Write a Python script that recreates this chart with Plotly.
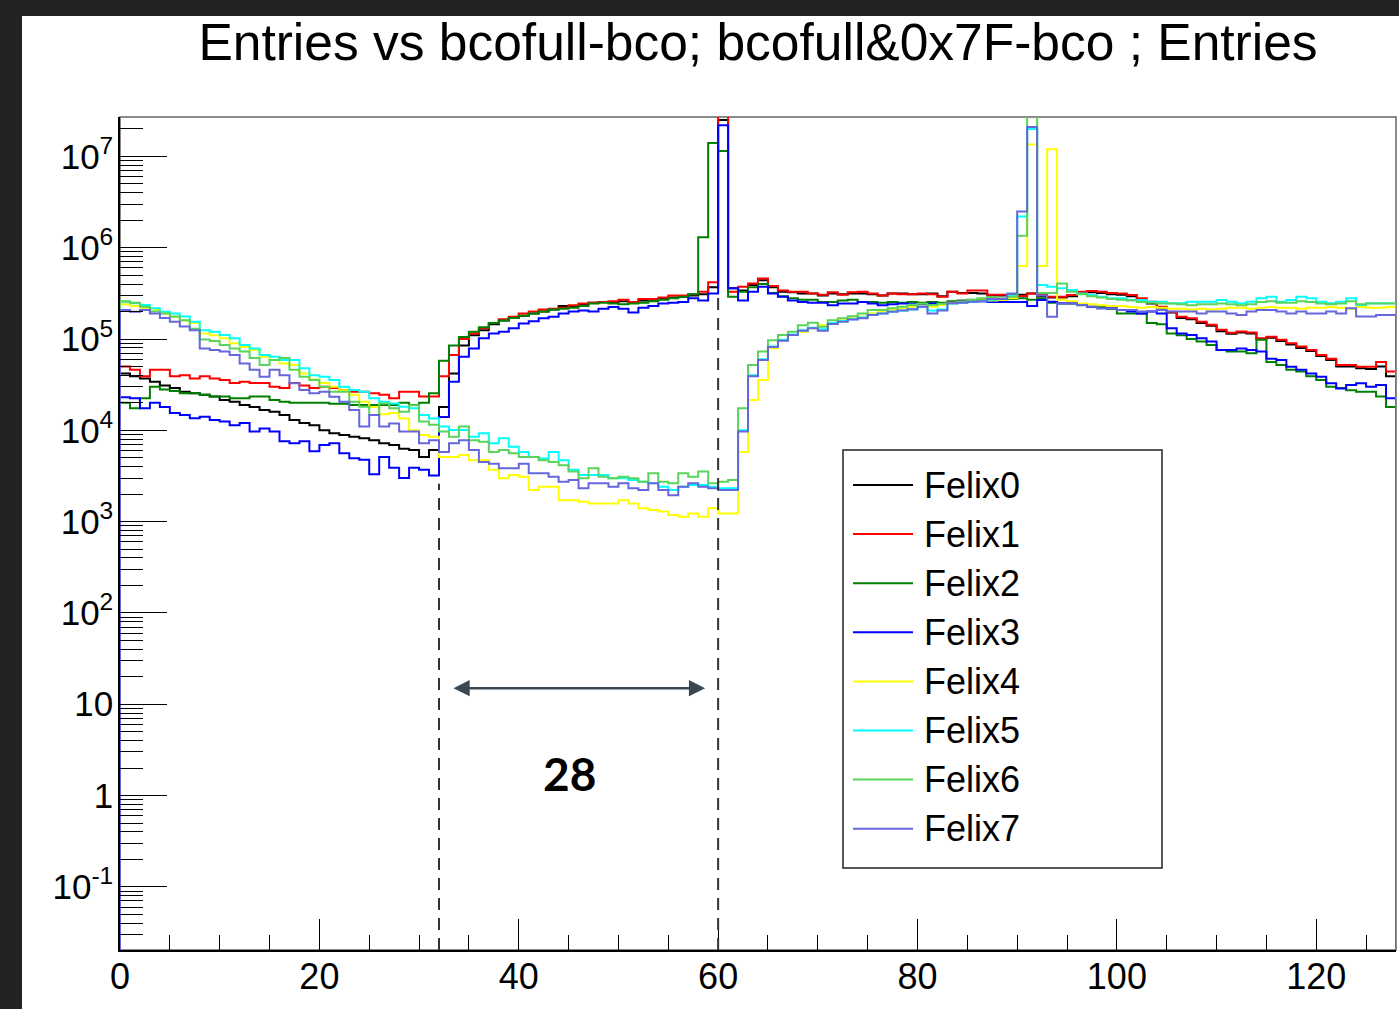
import math
import plotly.graph_objects as go

# ---------------- data (bin contents, bins of width 1 from 0 to 128) ----------------
bin_edges = list(range(129))

felix0 = [4.2e4, 3.9e4, 3.7e4, 3.4e4, 3.1e4, 2.9e4, 2.65e4, 2.55e4, 2.45e4, 2.35e4, 2.15e4, 2.05e4, 1.9e4, 1.8e4, 1.67e4, 1.6e4,
          1.47e4, 1.3e4, 1.2e4, 1.14e4, 1.0e4, 9.3e3, 8.9e3, 8.5e3, 8.2e3, 7.8e3, 7.2e3, 6.9e3, 6.3e3, 6.1e3, 5.1e3, 6.1e3,
          1.8e4, 4.2e4, 8.5e4, 1.1e5, 1.25e5, 1.45e5, 1.6e5, 1.7e5, 1.8e5, 1.9e5, 2.0e5, 2.1e5, 2.3e5, 2.3e5, 2.4e5, 2.5e5,
          2.55e5, 2.55e5, 2.6e5, 2.55e5, 2.65e5, 2.7e5, 2.75e5, 2.85e5, 2.9e5, 3.0e5, 3.1e5, 3.7e5, 2.5e7,
          3.6e5, 3.4e5, 3.9e5, 4.4e5, 3.7e5, 3.3e5, 3.25e5, 3.15e5, 3.15e5, 3.0e5, 3.15e5, 3.1e5, 3.15e5, 3.15e5, 3.1e5, 3.0e5,
          3.15e5, 3.15e5, 3.1e5, 3.1e5, 3.15e5, 2.95e5, 3.3e5, 3.2e5, 3.2e5, 3.15e5, 3.0e5, 3.0e5, 3.0e5, 3.05e5, 3.15e5,
          2.95e5, 2.85e5, 2.85e5, 2.95e5, 3.2e5, 3.25e5, 3.2e5, 3.1e5, 3.05e5, 2.95e5, 2.7e5, 2.45e5, 2.2e5, 1.95e5, 1.7e5, 1.65e5,
          1.5e5, 1.4e5, 1.22e5, 1.14e5, 1.18e5, 1.15e5, 1.0e5, 1.03e5, 9.5e4, 8.7e4, 8.0e4, 7.4e4, 6.5e4, 5.9e4, 5.0e4, 5.0e4,
          4.8e4, 4.7e4, 5.0e4, 3.9e4]

felix1 = [5.0e4, 4.6e4, 3.9e4, 4.6e4, 4.6e4, 3.9e4, 4.0e4, 3.7e4, 3.9e4, 3.7e4, 3.55e4, 3.3e4, 3.4e4, 3.3e4, 3.3e4, 3.0e4,
          2.9e4, 3.3e4, 3.1e4, 2.9e4, 3.0e4, 2.9e4, 2.75e4, 2.65e4, 2.65e4, 2.55e4, 2.45e4, 2.25e4, 2.65e4, 2.65e4, 2.35e4, 2.35e4,
          3.9e4, 6.7e4, 1.0e5, 1.15e5, 1.31e5, 1.5e5, 1.65e5, 1.75e5, 1.9e5, 2.0e5, 2.1e5, 2.15e5, 2.2e5, 2.35e5, 2.45e5, 2.5e5,
          2.55e5, 2.6e5, 2.7e5, 2.55e5, 2.75e5, 2.75e5, 2.85e5, 3.0e5, 3.0e5, 3.1e5, 3.3e5, 4.2e5, 3.2e7,
          3.3e5, 3.75e5, 4.05e5, 4.6e5, 3.8e5, 3.4e5, 3.3e5, 3.3e5, 3.15e5, 3.05e5, 3.25e5, 3.05e5, 3.25e5, 3.3e5, 3.15e5, 3.0e5,
          3.15e5, 3.1e5, 3.1e5, 3.15e5, 3.1e5, 2.9e5, 3.3e5, 3.15e5, 3.4e5, 3.4e5, 3.05e5, 3.05e5, 3.05e5, 2.95e5, 3.15e5,
          3.03e5, 2.91e5, 2.91e5, 3.03e5, 3.3e5, 3.35e5, 3.3e5, 3.2e5, 3.16e5, 3.03e5, 2.79e5, 2.56e5, 2.26e5, 1.99e5, 1.75e5, 1.69e5,
          1.55e5, 1.43e5, 1.26e5, 1.17e5, 1.21e5, 1.18e5, 1.02e5, 1.06e5, 9.8e4, 8.97e4, 8.3e4, 7.6e4, 6.7e4, 6.1e4, 5.2e4, 5.2e4,
          4.98e4, 4.98e4, 5.6e4, 4.4e4]

felix2 = [2.0e4, 1.75e4, 2.25e4, 3.0e4, 2.8e4, 2.7e4, 2.55e4, 2.55e4, 2.45e4, 2.35e4, 2.35e4, 2.25e4, 2.25e4, 2.35e4, 2.35e4, 2.15e4,
          2.05e4, 2.0e4, 2.0e4, 2.0e4, 2.0e4, 1.95e4, 1.95e4, 1.9e4, 1.9e4, 1.9e4, 1.9e4, 1.9e4, 2.0e4, 1.9e4, 2.0e4, 2.55e4,
          5.8e4, 8.5e4, 1.05e5, 1.2e5, 1.35e5, 1.5e5, 1.6e5, 1.7e5, 1.8e5, 1.9e5, 2.0e5, 2.1e5, 2.15e5, 2.2e5, 2.3e5, 2.45e5,
          2.5e5, 2.45e5, 2.4e5, 2.45e5, 2.5e5, 2.6e5, 2.7e5, 2.8e5, 2.9e5, 3.1e5, 1.3e6, 1.4e7, 1.15e7,
          2.9e5, 3.3e5, 3.7e5, 4.0e5, 3.2e5, 2.95e5, 2.8e5, 2.7e5, 2.7e5, 2.55e5, 2.55e5, 2.65e5, 2.7e5, 2.55e5, 2.55e5, 2.5e5,
          2.55e5, 2.5e5, 2.55e5, 2.5e5, 2.55e5, 2.5e5, 2.6e5, 2.65e5, 2.7e5, 2.7e5, 2.65e5, 2.7e5, 2.75e5, 2.8e5, 2.7e5,
          2.8e5, 2.5e5, 2.45e5, 2.45e5, 2.35e5, 2.25e5, 2.25e5, 2.15e5, 1.9e5, 1.9e5, 1.9e5, 1.5e5, 1.45e5, 1.15e5, 1.1e5, 1.0e5,
          9.4e4, 8.6e4, 7.6e4, 7.3e4, 7.3e4, 7.0e4, 9.8e4, 5.6e4, 5.2e4, 4.6e4, 4.4e4, 3.9e4, 3.55e4, 3.0e4, 2.9e4, 2.75e4,
          2.65e4, 2.65e4, 2.35e4, 1.8e4]

felix3 = [2.3e4, 2.25e4, 1.75e4, 2.0e4, 1.8e4, 1.55e4, 1.47e4, 1.36e4, 1.41e4, 1.3e4, 1.25e4, 1.14e4, 1.2e4, 9.7e3, 1.05e4, 9.7e3,
          7.6e3, 7.2e3, 7.6e3, 5.9e3, 6.9e3, 7.2e3, 5.6e3, 4.95e3, 4.75e3, 3.3e3, 5.1e3, 3.9e3, 3.0e3, 3.9e3, 3.7e3, 3.2e3,
          1.4e4, 3.4e4, 6.4e4, 7.9e4, 1.02e5, 1.15e5, 1.2e5, 1.31e5, 1.48e5, 1.57e5, 1.69e5, 1.75e5, 1.9e5, 2.0e5, 2.05e5, 2.0e5,
          2.15e5, 2.25e5, 2.15e5, 1.95e5, 2.2e5, 2.3e5, 2.45e5, 2.5e5, 2.55e5, 2.8e5, 2.65e5, 3.15e5, 2.2e7,
          3.6e5, 2.65e5, 3.3e5, 3.75e5, 3.15e5, 2.9e5, 2.65e5, 2.55e5, 2.5e5, 2.5e5, 2.35e5, 2.45e5, 2.45e5, 2.55e5, 2.45e5, 2.35e5,
          2.4e5, 2.45e5, 2.4e5, 2.4e5, 2.45e5, 2.4e5, 2.5e5, 2.6e5, 2.65e5, 2.6e5, 2.55e5, 2.55e5, 2.55e5, 2.55e5, 2.3e5,
          2.67e5, 2.56e5, 2.46e5, 2.46e5, 2.36e5, 2.26e5, 2.17e5, 2.17e5, 2.08e5, 2.0e5, 1.91e5, 2.0e5, 1.91e5, 1.31e5, 1.15e5, 1.11e5,
          1.02e5, 9.4e4, 7.6e4, 7.6e4, 7.9e4, 7.6e4, 7.3e4, 6.1e4, 5.9e4, 4.98e4, 4.6e4, 4.2e4, 3.87e4, 3.27e4, 2.88e4, 3.13e4,
          3.27e4, 3.0e4, 3.13e4, 2.24e4]

felix4 = [2.4e5, 2.3e5, 2.2e5, 2.1e5, 1.9e5, 1.75e5, 1.6e5, 1.5e5, 1.15e5, 1.1e5, 1.02e5, 9.0e4, 8.2e4, 7.6e4, 6.4e4, 5.9e4,
          5.4e4, 5.2e4, 4.2e4, 3.6e4, 3.3e4, 3.0e4, 2.75e4, 2.45e4, 2.05e4, 1.8e4, 1.5e4, 1.55e4, 1.35e4, 1.0e4, 8.9e3, 8.5e3,
          5.1e3, 5.1e3, 5.36e3, 4.7e3, 4.7e3, 3.7e3, 2.98e3, 3.24e3, 3.1e3, 2.22e3, 2.41e3, 2.41e3, 1.72e3, 1.72e3, 1.65e3, 1.58e3,
          1.58e3, 1.58e3, 1.72e3, 1.58e3, 1.40e3, 1.34e3, 1.29e3, 1.18e3, 1.13e3, 1.23e3, 1.13e3, 1.40e3, 1.23e3, 1.23e3,
          5.8e3, 2.15e4, 3.56e4, 7.9e4, 9.7e4, 1.11e5, 1.2e5, 1.31e5, 1.42e5, 1.46e5, 1.61e5, 1.69e5, 1.75e5, 1.91e5, 2.0e5, 2.08e5,
          2.17e5, 2.26e5, 2.26e5, 2.26e5, 2.36e5, 2.5e5, 2.56e5, 2.6e5, 2.65e5, 2.65e5, 2.67e5, 2.79e5, 6.3e5, 1.35e7, 6.3e5, 1.2e7,
          2.7e5, 2.6e5, 2.45e5, 2.4e5, 2.35e5, 2.3e5, 2.3e5, 2.25e5, 2.2e5, 2.25e5, 2.2e5, 2.15e5, 2.15e5, 2.1e5, 2.15e5, 2.1e5,
          2.15e5, 2.2e5, 2.2e5, 2.15e5, 2.2e5, 2.25e5, 2.2e5, 2.2e5, 2.15e5, 2.2e5, 2.2e5, 2.25e5, 2.2e5, 2.15e5, 2.25e5, 2.2e5,
          2.2e5, 2.25e5]

felix5 = [2.56e5, 2.46e5, 2.36e5, 2.17e5, 1.99e5, 1.91e5, 1.76e5, 1.55e5, 1.25e5, 1.2e5, 1.11e5, 1.02e5, 8.6e4, 7.9e4, 6.7e4, 6.4e4,
          5.9e4, 5.9e4, 4.8e4, 4.0e4, 3.87e4, 3.56e4, 3.0e4, 2.76e4, 2.65e4, 2.24e4, 2.06e4, 1.97e4, 1.81e4, 1.74e4, 1.47e4, 1.35e4,
          1.1e4, 1.01e4, 1.01e4, 8.5e3, 9.3e3, 7.2e3, 8.2e3, 6.6e3, 5.8e3, 5.1e3, 4.9e3, 5.8e3, 4.7e3, 3.7e3, 3.24e3, 3.24e3,
          3.24e3, 2.98e3, 2.98e3, 2.86e3, 2.74e3, 2.63e3, 2.41e3, 2.22e3, 2.41e3, 2.52e3, 2.52e3, 2.41e3, 2.32e3, 2.32e3,
          1.0e4, 4.0e4, 6.0e4, 8.3e4, 9.8e4, 1.12e5, 1.25e5, 1.33e5, 1.28e5, 1.5e5, 1.58e5, 1.65e5, 1.72e5, 1.85e5, 1.9e5, 2.0e5,
          2.05e5, 2.1e5, 2.25e5, 2.05e5, 2.1e5, 2.45e5, 2.5e5, 2.55e5, 2.6e5, 2.7e5, 2.75e5, 3.0e5, 2.2e6, 2.0e7, 3.9e5, 3.74e5,
          3.59e5, 3.44e5, 3.16e5, 3.03e5, 2.91e5, 2.79e5, 2.79e5, 2.67e5, 2.67e5, 2.56e5, 2.56e5, 2.46e5, 2.46e5, 2.56e5, 2.56e5, 2.56e5,
          2.67e5, 2.56e5, 2.46e5, 2.56e5, 2.79e5, 2.91e5, 2.56e5, 2.67e5, 2.91e5, 2.79e5, 2.56e5, 2.46e5, 2.56e5, 2.79e5, 2.36e5, 2.46e5,
          2.46e5, 2.46e5]

felix6 = [2.6e5, 2.5e5, 2.26e5, 2.0e5, 1.91e5, 1.76e5, 1.61e5, 1.3e5, 9.9e4, 9.5e4, 8.6e4, 7.9e4, 7.3e4, 6.2e4, 5.2e4, 5.9e4,
          6.2e4, 4.6e4, 3.87e4, 3.56e4, 3.0e4, 2.65e4, 2.65e4, 2.06e4, 1.81e4, 1.47e4, 1.97e4, 1.74e4, 1.6e4, 1.88e4, 1.25e4, 1.15e4,
          9.7e3, 8.5e3, 1.1e4, 7.8e3, 7.5e3, 5.8e3, 6.1e3, 5.6e3, 5.1e3, 5.1e3, 4.7e3, 4.5e3, 4.15e3, 3.55e3, 2.98e3, 3.85e3,
          3.1e3, 2.98e3, 3.1e3, 2.98e3, 2.74e3, 3.38e3, 2.74e3, 2.63e3, 3.38e3, 3.1e3, 3.55e3, 2.63e3, 2.74e3, 2.86e3,
          1.74e4, 5.2e4, 7.3e4, 9.7e4, 1.11e5, 1.2e5, 1.42e5, 1.51e5, 1.36e5, 1.61e5, 1.69e5, 1.78e5, 1.91e5, 2.08e5, 2.08e5, 2.17e5,
          2.26e5, 2.36e5, 2.43e5, 2.36e5, 2.43e5, 2.46e5, 2.56e5, 2.67e5, 2.79e5, 2.86e5, 2.79e5, 2.9e5, 1.35e6, 3.0e7, 3.2e5, 3.2e5,
          4.07e5, 3.3e5, 3.1e5, 2.95e5, 2.85e5, 2.75e5, 2.7e5, 2.65e5, 2.55e5, 2.5e5, 2.45e5, 2.45e5, 2.4e5, 2.35e5, 2.4e5, 2.4e5,
          2.45e5, 2.4e5, 2.35e5, 2.4e5, 2.55e5, 2.6e5, 2.5e5, 2.5e5, 2.6e5, 2.55e5, 2.45e5, 2.4e5, 2.45e5, 2.6e5, 2.4e5, 2.45e5,
          2.45e5, 2.45e5]

felix7 = [2.08e5, 1.99e5, 2.08e5, 1.91e5, 1.7e5, 1.55e5, 1.37e5, 1.25e5, 7.9e4, 7.6e4, 7.3e4, 6.7e4, 5.4e4, 4.6e4, 3.87e4, 4.6e4,
          4.0e4, 3.27e4, 2.76e4, 2.54e4, 2.65e4, 2.33e4, 2.06e4, 1.67e4, 1.1e4, 1.47e4, 1.1e4, 1.19e4, 9.7e3, 9.7e3, 7.2e3, 7.8e3,
          5.8e3, 7.2e3, 7.8e3, 6.1e3, 4.5e3, 4.3e3, 3.85e3, 3.85e3, 4.3e3, 3.38e3, 3.38e3, 3.1e3, 2.74e3, 2.86e3, 2.32e3, 2.63e3,
          2.63e3, 2.41e3, 2.63e3, 2.32e3, 2.22e3, 2.63e3, 2.22e3, 1.95e3, 2.41e3, 2.63e3, 2.41e3, 2.32e3, 2.22e3, 2.22e3,
          9.7e3, 3.9e4, 5.9e4, 8.2e4, 9.6e4, 1.11e5, 1.23e5, 1.31e5, 1.23e5, 1.46e5, 1.55e5, 1.64e5, 1.69e5, 1.83e5, 1.9e5, 1.99e5,
          2.05e5, 2.12e5, 2.26e5, 1.9e5, 2.05e5, 2.46e5, 2.5e5, 2.56e5, 2.6e5, 2.75e5, 2.75e5, 3.16e5, 2.5e6, 2.1e7, 3.0e5, 1.75e5,
          2.46e5, 2.46e5, 2.36e5, 2.26e5, 2.17e5, 2.17e5, 2.08e5, 2.08e5, 2.0e5, 2.0e5, 2.08e5, 2.0e5, 2.0e5, 2.0e5, 1.91e5, 2.0e5,
          2.0e5, 1.91e5, 1.83e5, 2.0e5, 2.08e5, 2.08e5, 2.0e5, 1.91e5, 2.0e5, 1.91e5, 1.91e5, 2.0e5, 1.91e5, 2.17e5, 1.76e5, 1.76e5,
          1.83e5, 1.83e5]

series_names = ["Felix0", "Felix1", "Felix2", "Felix3", "Felix4", "Felix5", "Felix6", "Felix7"]
series_values = [felix0, felix1, felix2, felix3, felix4, felix5, felix6, felix7]
series_colors = ["#000000", "#ff0000", "#008000", "#0000ff", "#ffff00", "#00ffff", "#5ad45a", "#6666dd"]

x_tick_vals = [0, 20, 40, 60, 80, 100, 120]
x_minor_vals = [v for v in range(5, 128, 5) if v % 20 != 0]
y_tick_vals = [1e-1, 1, 10, 1e2, 1e3, 1e4, 1e5, 1e6, 1e7]
y_tick_text = ["10<sup>-1</sup>", "1", "10", "10<sup>2</sup>", "10<sup>3</sup>", "10<sup>4</sup>",
               "10<sup>5</sup>", "10<sup>6</sup>", "10<sup>7</sup>"]
y_minor_vals = [k * 10.0 ** n for n in range(-2, 8) for k in range(2, 10)]

title_text = "Entries vs bcofull-bco; bcofull&0x7F-bco ; Entries"
marker_lines_x = [32, 60]          # dashed guide lines
marker_lines_top = [2.6e3, 3.4e5]  # value where each dashed line ends
arrow_x = [33.3, 58.7]
arrow_y = 15.0
gap_label = "28"
gap_label_pos = (45.1, 1.76)

# ---------------- layout geometry ----------------
W, H = 1399, 1009
ML, MR, MT, MB = 120, 3, 117, 59
PW, PH = W - ML - MR, H - MT - MB
Y_LOG_MIN, Y_LOG_MAX = -1.692, 7.432
FLOOR = 10 ** (Y_LOG_MIN - 2)
FONT = "Liberation Sans, Arial, Helvetica, sans-serif"


def px_x(px):
    return (px - ML) / PW


def px_y(py):
    return (H - MB - py) / PH


def val_to_paper(v):
    return (math.log10(v) - Y_LOG_MIN) / (Y_LOG_MAX - Y_LOG_MIN)


fig = go.Figure()

for name, vals, color in zip(series_names, series_values, series_colors):
    xs = [bin_edges[0]] + bin_edges[:-1] + [bin_edges[-1], bin_edges[-1]]
    ys = [FLOOR] + vals + [vals[-1], FLOOR]
    fig.add_trace(go.Scatter(x=xs, y=ys, mode="lines", name=name, showlegend=False,
                             line=dict(color=color, width=2, shape="hv")))

shapes = []
# frame
shapes.append(dict(type="rect", xref="paper", yref="paper", x0=0, x1=1, y0=0, y1=1,
                   line=dict(color="#666666", width=1.5), layer="below"))
# dark screenshot border (top and left)
shapes.append(dict(type="rect", xref="paper", yref="paper", x0=px_x(-5), x1=px_x(W + 5),
                   y0=px_y(16), y1=px_y(-5), line=dict(width=0), fillcolor="#222222", layer="above"))
shapes.append(dict(type="rect", xref="paper", yref="paper", x0=px_x(-5), x1=px_x(22),
                   y0=px_y(H + 5), y1=px_y(-5), line=dict(width=0), fillcolor="#222222", layer="above"))
# dashed guide lines
for xv, top in zip(marker_lines_x, marker_lines_top):
    shapes.append(dict(type="line", xref="x", yref="paper", x0=xv, x1=xv, y0=0, y1=val_to_paper(top),
                       line=dict(color="#333333", width=2, dash="12px,8px"), layer="above"))

# manual legend
LEG_X0, LEG_X1, LEG_Y0, LEG_Y1 = 843, 1162, 450, 868
shapes.append(dict(type="rect", xref="paper", yref="paper", x0=px_x(LEG_X0), x1=px_x(LEG_X1),
                   y0=px_y(LEG_Y1), y1=px_y(LEG_Y0), line=dict(color="#222222", width=1.5),
                   fillcolor="white", layer="above"))
annotations = []
for i, (name, color) in enumerate(zip(series_names, series_colors)):
    yc = 485 + i * 49.1
    shapes.append(dict(type="line", xref="paper", yref="paper", x0=px_x(853), x1=px_x(913),
                       y0=px_y(yc), y1=px_y(yc), line=dict(color=color, width=2), layer="above"))
    annotations.append(dict(x=px_x(922), y=px_y(yc), xref="paper", yref="paper", text=name,
                            showarrow=False, xanchor="left", yanchor="middle",
                            font=dict(family=FONT, size=36, color="black")))

# double arrow and label
annotations.append(dict(x=arrow_x[1], y=val_to_paper(arrow_y), xref="x", yref="paper",
                        ax=arrow_x[0], ay=0, axref="x", ayref="pixel", text="",
                        showarrow=True, arrowhead=2, arrowside="end+start", arrowsize=1.3,
                        arrowwidth=2.5, arrowcolor="#3b4750", standoff=0, startstandoff=0))
annotations.append(dict(x=gap_label_pos[0], y=val_to_paper(gap_label_pos[1]), xref="x", yref="paper",
                        text="<b>" + gap_label + "</b>", showarrow=False,
                        xanchor="center", yanchor="middle",
                        font=dict(family="Lato, Open Sans, sans-serif", size=46, color="black")))

fig.update_layout(
    width=W, height=H, autosize=False,
    margin=dict(l=ML, r=MR, t=MT, b=MB, pad=0),
    paper_bgcolor="white", plot_bgcolor="white",
    title=dict(text=title_text, x=0.5, xref="paper", xanchor="center",
               y=1 - 42 / H, yref="container", yanchor="middle",
               font=dict(family=FONT, size=51.5, color="black")),
    shapes=shapes, annotations=annotations,
    showlegend=False,
)

fig.update_xaxes(range=[0, 128], showgrid=False, zeroline=False, showline=True,
                 linecolor="black", linewidth=1.5, mirror=False,
                 tickmode="array", tickvals=x_tick_vals, ticks="inside", ticklen=31,
                 tickwidth=1, tickcolor="black", ticklabelstandoff=-6,
                 tickfont=dict(family=FONT, size=36, color="black"),
                 minor=dict(tickmode="array", tickvals=x_minor_vals, ticks="inside",
                            ticklen=15, tickwidth=1, tickcolor="black", showgrid=False))

fig.update_yaxes(type="log", range=[Y_LOG_MIN, Y_LOG_MAX], showgrid=False, zeroline=False,
                 showline=True, linecolor="black", linewidth=1.5, mirror=False,
                 tickmode="array", tickvals=y_tick_vals, ticktext=y_tick_text,
                 ticks="inside", ticklen=47, tickwidth=1, tickcolor="black", ticklabelstandoff=-2,
                 tickfont=dict(family=FONT, size=35, color="black"),
                 minor=dict(tickmode="array", tickvals=y_minor_vals, ticks="inside",
                            ticklen=23, tickwidth=1, tickcolor="black", showgrid=False))

fig.write_html("out.html")
